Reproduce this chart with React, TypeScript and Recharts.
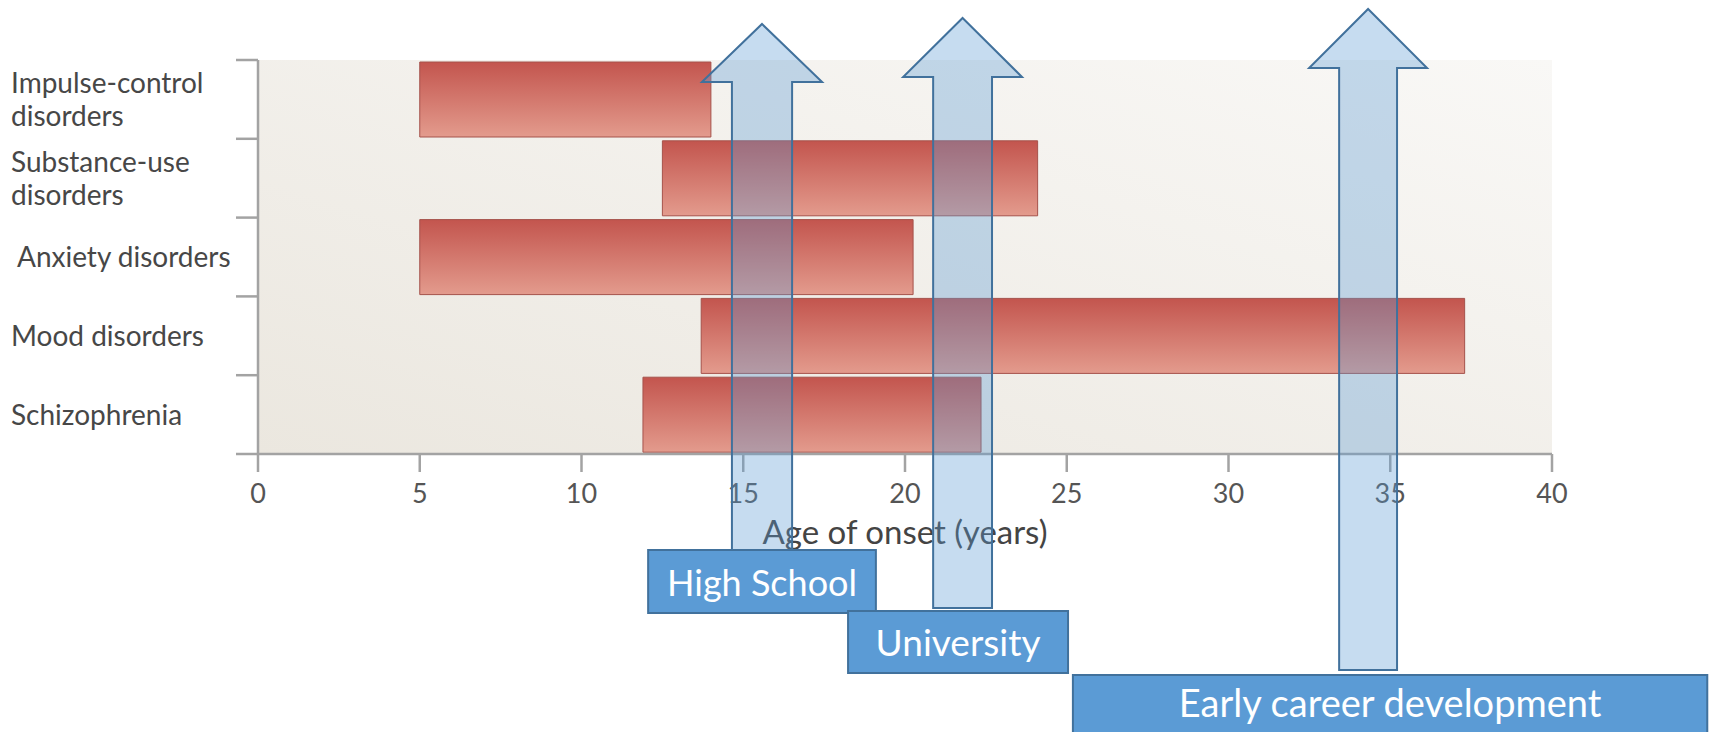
import React from "react";
import { BarChart, Bar, XAxis, YAxis, CartesianGrid, ReferenceArea } from "recharts";

// disorders and their typical age-of-onset window (years)
const disorders = [
  "Impulse-control disorders",
  "Substance-use disorders",
  "Anxiety disorders",
  "Mood disorders",
  "Schizophrenia",
];
const onsetFrom = [5, 12.5, 5, 13.7, 11.9];
const onsetTo = [14, 24.1, 20.25, 37.3, 22.35];
const ageTicks = [0, 5, 10, 15, 20, 25, 30, 35, 40];

// how the category labels wrap
const labelLines: Record<string, string[]> = {
  "Impulse-control disorders": ["Impulse-control", "disorders"],
  "Substance-use disorders": ["Substance-use", "disorders"],
  "Anxiety disorders": ["Anxiety disorders"],
  "Mood disorders": ["Mood disorders"],
  Schizophrenia: ["Schizophrenia"],
};

// life stages drawn on top: arrow shaft span and label box span, in years
const stages = ["High School", "University", "Early career development"];
const arrowSpan: [number, number][] = [
  [14.65, 16.51],
  [20.87, 22.69],
  [33.42, 35.21],
];
const boxSpan: [number, number][] = [
  [12.06, 19.1],
  [18.24, 25.04],
  [25.19, 44.8],
];

const data = disorders.map((name, i) => ({ name, range: [onsetFrom[i], onsetTo[i]] }));

// layout
const W = 1711;
const H = 732;
const PLOT_TOP = 60;
const AXIS_Y = 454;
const Y_AXIS_W = 258;
const BAND = (AXIS_Y - PLOT_TOP) / disorders.length;
const AXIS_COLOR = "#a3a3a3";
const FONT = "Lato, 'Open Sans', sans-serif";

// pixel offsets for the stage arrows / boxes (relative to plot top and x axis)
const arrowLook = [
  { tip: 36, base: 22, tail: 99, wing: 30, boxTop: 550, boxBottom: 613, font: 36 },
  { tip: 42, base: 17, tail: 154, wing: 30, boxTop: 611, boxBottom: 673, font: 37 },
  { tip: 51, base: 8, tail: 216, wing: 30, boxTop: 675, boxBottom: 740, font: 38 },
];

const CategoryTick = (props: any) => {
  const { y, payload, index } = props;
  const lines = labelLines[payload.value] || [payload.value];
  const half = BAND / 2;
  const tx = payload.value === "Anxiety disorders" ? 17 : 11;
  const first = lines.length > 1 ? y - 6 : y + 10;
  return (
    <g>
      <line x1={236} x2={Y_AXIS_W} y1={y - half} y2={y - half} stroke={AXIS_COLOR} strokeWidth={2.5} />
      {index === disorders.length - 1 && (
        <line x1={236} x2={Y_AXIS_W} y1={y + half} y2={y + half} stroke={AXIS_COLOR} strokeWidth={2.5} />
      )}
      <text fill="#474747" fontSize={28} fontFamily={FONT}>
        {lines.map((l, k) => (
          <tspan key={k} x={tx} y={first + k * 33}>
            {l}
          </tspan>
        ))}
      </text>
    </g>
  );
};

const makeArrow = (i: number) => (props: any) => {
  const { x, y, width, height } = props;
  const s = arrowLook[i];
  const cx = x + width / 2;
  const tip = y - s.tip;
  const base = y + s.base;
  const end = y + height + s.tail;
  const pts = [
    [cx, tip],
    [x + width + s.wing, base],
    [x + width, base],
    [x + width, end],
    [x, end],
    [x, base],
    [x - s.wing, base],
  ]
    .map((p) => p.join(","))
    .join(" ");
  return <polygon points={pts} fill="#5b9bd5" fillOpacity={0.35} stroke="#41719c" strokeWidth={2} />;
};

const makeBox = (i: number) => (props: any) => {
  const { x, width } = props;
  const s = arrowLook[i];
  const h = s.boxBottom - s.boxTop;
  const textY = i === 2 ? s.boxTop + 42 : s.boxTop + h / 2 + 14;
  return (
    <g>
      <rect x={x} y={s.boxTop} width={width} height={h} fill="#5b9bd5" stroke="#41719c" strokeWidth={2} />
      <text x={x + width / 2} y={textY} fill="#ffffff" fontSize={s.font} fontFamily={FONT} textAnchor="middle">
        {stages[i]}
      </text>
    </g>
  );
};

export default function App() {
  return (
    <div style={{ position: "absolute", left: 0, top: 0, width: W, height: H, background: "#fff" }}>
      <BarChart
        width={W}
        height={H}
        data={data}
        layout="vertical"
        margin={{ top: PLOT_TOP, right: W - 1552, bottom: H - AXIS_Y - 90, left: 0 }}
        barCategoryGap={2}
        style={{ fontFamily: FONT }}
      >
        <defs>
          <linearGradient id="plotBg" x1="0" y1="1" x2="1" y2="0">
            <stop offset="0%" stopColor="#ebe7df" />
            <stop offset="100%" stopColor="#f9f8f6" />
          </linearGradient>
          <linearGradient id="barFill" x1="0" y1="0" x2="0" y2="1">
            <stop offset="0%" stopColor="#c3554e" />
            <stop offset="100%" stopColor="#e39b8d" />
          </linearGradient>
        </defs>
        <CartesianGrid horizontal={false} vertical={false} fill="url(#plotBg)" />
        <XAxis
          type="number"
          domain={[0, 40]}
          ticks={ageTicks}
          interval={0}
          height={90}
          tickSize={18}
          tickMargin={12}
          axisLine={{ stroke: AXIS_COLOR, strokeWidth: 2.5 }}
          tickLine={{ stroke: AXIS_COLOR, strokeWidth: 2.5 }}
          tick={{ fill: "#555", fontSize: 27, fontFamily: FONT }}
          label={{ value: "Age of onset (years)", position: "insideBottom", offset: 0, fill: "#444", fontSize: 33, fontFamily: FONT }}
        />
        <YAxis
          type="category"
          dataKey="name"
          width={Y_AXIS_W}
          interval={0}
          axisLine={{ stroke: AXIS_COLOR, strokeWidth: 2.5 }}
          tickLine={false}
          tick={<CategoryTick />}
        />
        <Bar dataKey="range" fill="url(#barFill)" stroke="#a5524b" strokeWidth={1} isAnimationActive={false} />
        {arrowSpan.map((s, i) => (
          <ReferenceArea key={`a${i}`} x1={s[0]} x2={s[1]} ifOverflow="visible" zIndex={2500} shape={makeArrow(i)} />
        ))}
        {boxSpan.map((s, i) => (
          <ReferenceArea key={`b${i}`} x1={s[0]} x2={s[1]} ifOverflow="visible" zIndex={2600} shape={makeBox(i)} />
        ))}
      </BarChart>
    </div>
  );
}
